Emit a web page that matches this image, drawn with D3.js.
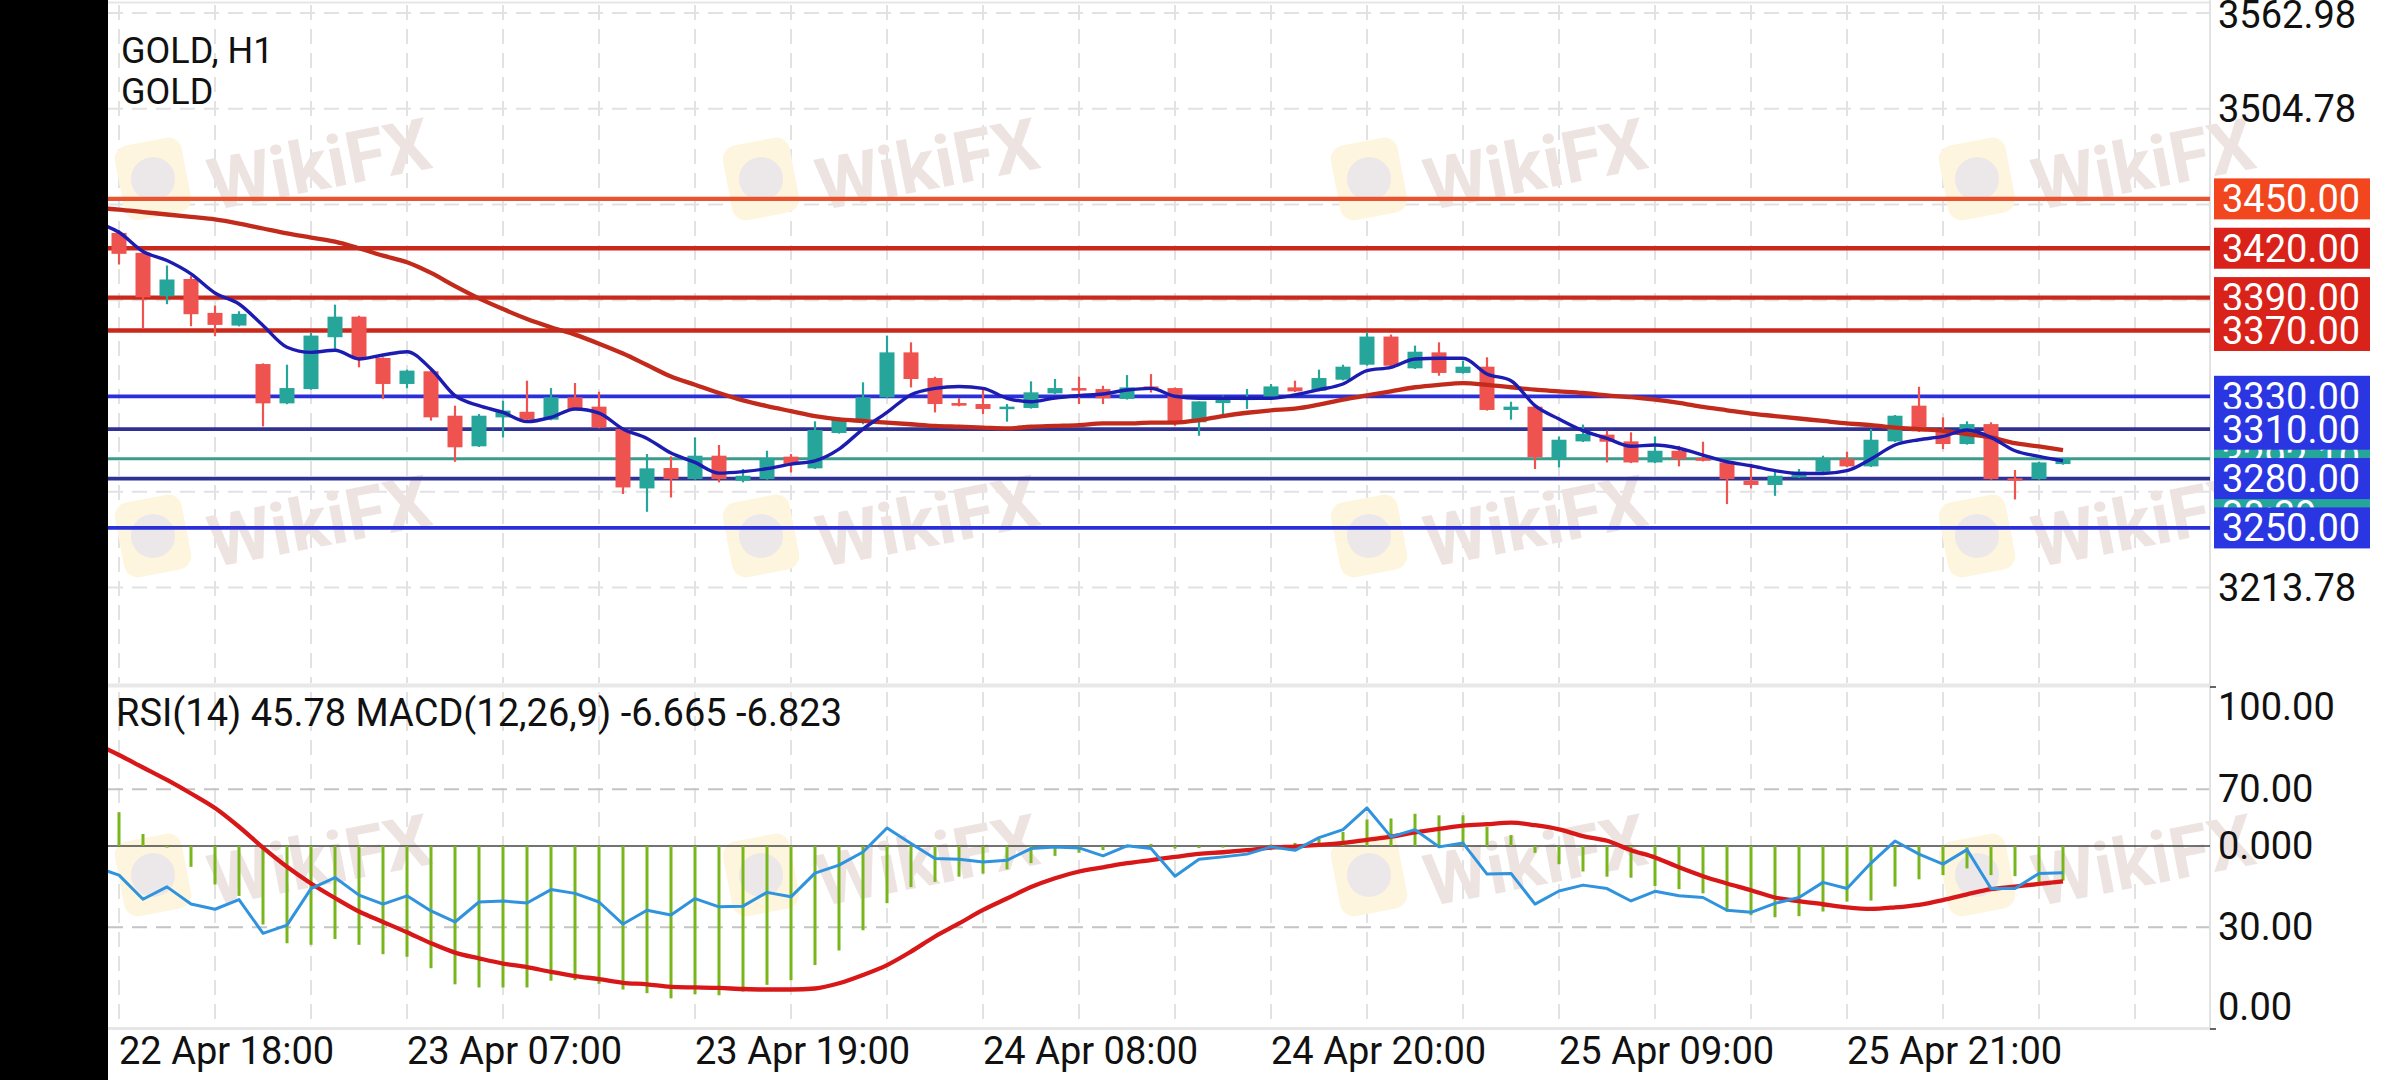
<!DOCTYPE html>
<html><head><meta charset="utf-8">
<script src="https://cdn.jsdelivr.net/npm/d3@7"></script>
<style>
html,body{margin:0;padding:0;background:#fff;overflow:hidden}
svg{display:block}
text{font-family:Roboto,"Noto Sans",sans-serif}
</style>
</head><body>
<svg id="c" width="2400" height="1080"></svg>
<script>
// ---------- DATA ----------
const symbol = "GOLD, H1";
const symbolName = "GOLD";
const indicatorText = "RSI(14) 45.78 MACD(12,26,9) -6.665 -6.823";
const timeLabels = ["22 Apr 18:00","23 Apr 07:00","23 Apr 19:00","24 Apr 08:00","24 Apr 20:00","25 Apr 09:00","25 Apr 21:00"];
const timeLabelBars = [0,12,24,36,48,60,72];
const priceTicks = [3562.98,3504.78,3446.58,3388.38,3330.18,3271.98,3213.78];
const rsiTicks = [100,70,30,0];
const rsiTickLabels = ["100.00","70.00","30.00","0.00"];
const macdZeroLabel = "0.000";

const opens  = [3429.3,3417.2,3390.8,3401.3,3380.7,3373,3349.6,3325.7,3334.4,3365.9,3378.4,3353.3,3337.5,3345.2,3318.2,3299.6,3317.2,3320.6,3315.8,3329.4,3323.7,3310.1,3274,3286.4,3279.7,3293.9,3278.7,3279.7,3293.3,3286.2,3307.7,3315.8,3329.4,3356.7,3341.1,3325.9,3325.3,3322.3,3322.9,3331.8,3335,3334.4,3328.4,3336,3335,3314.2,3325.9,3328.8,3329.4,3335.4,3333.4,3340.1,3349.2,3366.3,3347,3356.7,3344.2,3348,3321.7,3323.7,3292.3,3302.6,3306.7,3302.6,3289.8,3296.9,3292.5,3289.8,3278.7,3276.1,3280.7,3284.2,3291.9,3287.4,3302.6,3324.3,3308.7,3301,3313.1,3280.2,3279.7,3288.8];
const highs  = [3431,3418,3409.5,3403,3385.1,3381.7,3350,3349.2,3368.5,3385.7,3379,3353.7,3346.2,3346.6,3324.3,3319.2,3327.3,3339.5,3335,3338.1,3332.8,3310.5,3294.9,3293.5,3305,3300.4,3285.8,3296.9,3294.9,3314.8,3317.2,3338.5,3366.9,3362.8,3341.9,3328.8,3334.4,3325.3,3339.1,3340.5,3341.9,3336.4,3342.9,3343.5,3335.4,3326.9,3330.4,3334.4,3337.5,3339.5,3346.2,3349.2,3368.9,3367.5,3360.8,3362.8,3351.7,3353.7,3326.7,3324.1,3305.6,3312.8,3309.2,3308.1,3305.6,3299.9,3302.4,3290.2,3288.8,3284.8,3285.8,3293.9,3296.3,3310.1,3318.6,3335.8,3317.2,3314.8,3314.2,3285.2,3290.2,3292.3];
const lows   = [3410.1,3370.9,3386,3372.6,3366.5,3372.5,3311.7,3325.2,3334,3358.8,3347.6,3328.4,3334.8,3315.2,3290.2,3299.2,3305,3315.2,3315.4,3321.8,3310.5,3270.6,3259.8,3268.5,3279.3,3277.7,3277.7,3279.3,3283.7,3285.8,3307.3,3313,3329,3335.4,3320.2,3323.9,3319.2,3314.6,3322.5,3331.4,3325.3,3325.3,3328,3332.3,3312.1,3306,3319.2,3322.3,3329,3332.6,3333,3339.7,3348.6,3347.6,3346.6,3342.5,3343.8,3321.3,3315.8,3285.8,3286.8,3302.2,3289.8,3289.4,3289.4,3287.4,3290.4,3264.5,3274,3269.5,3280.3,3283.8,3287,3287,3302.2,3308.3,3297.9,3300.6,3279.3,3267.3,3279.3,3288.4];
const closes = [3416.6,3390.2,3401,3379.9,3373.4,3380.1,3325.7,3335,3366.9,3378.4,3353.3,3337.5,3345.6,3317.2,3299,3318.2,3321.3,3315.8,3329.4,3322.3,3311.1,3274.6,3286.2,3279.7,3293.9,3279.7,3281.7,3292.3,3288.8,3309.5,3315.8,3329.4,3356.7,3340.5,3325.3,3324.3,3322.3,3323.7,3332.4,3335,3333.8,3328.8,3335.4,3334.4,3314.2,3326.9,3329.4,3329.2,3336,3333,3341.1,3348,3366.3,3348.6,3357.1,3344.2,3348,3321.7,3323.7,3292.9,3303.6,3307.1,3302.4,3289.8,3296.9,3291.9,3290.8,3279.7,3276.1,3281.7,3284.2,3291.9,3287.4,3303.6,3318.2,3308.7,3301,3313.1,3279.7,3279.6,3289.8,3292.1];

// line series start one bar before the first visible candle (bar -1)
const lineStartBar = -1;
const maFast = [3436,3429.7,3418,3412.5,3404.4,3392.8,3386.1,3373,3359.8,3356.7,3358,3352.7,3355.1,3357.1,3346.6,3330.4,3324.3,3320.2,3314.6,3317.2,3322.3,3319.8,3310.1,3304.4,3295.5,3289.8,3283.3,3284.2,3286,3288.8,3290.8,3297.9,3310.1,3320.2,3331,3334.8,3336,3334.8,3328.8,3326.7,3329,3330.4,3331.4,3333.8,3334.8,3330,3328.8,3328.8,3328.8,3328.8,3330.8,3334,3337.5,3345.6,3347.6,3352.7,3353.1,3353.1,3343.6,3339.5,3324.3,3316.2,3309.1,3304.4,3299.6,3300.4,3298.4,3294.3,3290.2,3287.8,3284.8,3283.1,3283.1,3284.8,3291.9,3300.4,3303.6,3305.6,3309.5,3305,3296.9,3293.5,3290.8];
const maSlow = [3444.5,3443.5,3442,3440.5,3439,3437.5,3435,3432,3429,3426.5,3424,3420,3415.5,3411.5,3405,3397,3389.5,3383,3377,3372,3367.5,3362,3356,3349,3342,3337,3332,3327.5,3324,3321,3318,3316,3315,3314,3313,3312,3311.5,3311,3310.5,3311.5,3312,3312.5,3313.5,3313.5,3314,3314,3315.5,3318,3320,3321.5,3322.5,3325,3328,3330.5,3333,3335.5,3337,3338,3337,3335.5,3334,3333,3332,3330.5,3329.5,3328,3326,3323.5,3321.5,3319.5,3318,3316.5,3315,3313.5,3312.5,3311,3310,3309,3307,3305,3301.5,3299.5,3297.3];
const rsi = [47.5,45.1,38.1,41.7,36.7,35.2,38,28.2,30.6,41.2,44.4,39.3,36.7,39.1,34.7,31.5,37.3,37.6,37,40.9,39.8,37.3,30.9,34.9,33.5,38.3,35.9,36.1,40.1,38.8,45.7,48,51.8,58.8,54.3,49.9,49.7,48.9,49.4,52.8,53.3,53,50.7,53.6,52.8,44.8,49.7,50.4,51.2,53.3,52.3,56,58.3,64.6,56.2,58.3,53.3,54.4,45.4,45.6,36.7,40.5,42.2,41.2,37.6,40.4,39.1,38.6,34.9,34.3,36.9,38.6,43,41.2,48.6,55,51.2,48.3,52.5,41.2,41.2,45.6,45.78];
const macdSignal = [19.7,17.5,15.1,12.7,10.1,7.3,3.7,-0.3,-4,-7.2,-10,-12.6,-14.6,-16.6,-18.7,-20.5,-21.6,-22.6,-23.3,-24.2,-25,-25.6,-26.3,-26.6,-27.1,-27.2,-27.3,-27.5,-27.6,-27.6,-27.4,-26.4,-24.8,-22.9,-20.3,-17.4,-14.9,-12.3,-10.1,-7.9,-6.2,-4.9,-4.1,-3.3,-2.7,-2.1,-1.5,-1.2,-0.8,-0.3,-0.1,0.2,0.6,1.2,1.8,2.6,3.3,3.9,4.2,4.5,4,3.2,1.9,1,-0.8,-2.2,-4.1,-5.8,-7.2,-8.5,-9.9,-10.6,-11.2,-11.8,-12.1,-11.8,-11.3,-10.4,-9.3,-8.3,-7.8,-7.3,-6.823];
// histogram starts at bar 0
const macdMain = [6.5,2.3,-0.3,-4,-7.4,-9.6,-15.1,-18.7,-19,-17.9,-19,-20.8,-21.3,-23.5,-26.6,-27.2,-27.2,-27.2,-25.9,-25.8,-26.5,-27.6,-28.3,-29.3,-28.5,-28.7,-28,-26.7,-25.8,-22.9,-20.1,-16.2,-11,-7.9,-6.9,-5.9,-5.3,-4.5,-3.3,-1.9,-1.3,-0.8,-0.3,0.4,-0.5,-0.4,-0.3,0.1,0.3,0.6,1.4,2.7,5.1,5.3,6.2,5.9,5.9,3.7,2.1,-1.3,-3.5,-4.9,-5.9,-6.1,-7.7,-8.3,-9.1,-12.6,-13.3,-13.7,-13.5,-12.6,-10.7,-10.5,-7.8,-6.4,-5.6,-4.3,-5.6,-5.8,-6.9,-6.665];

const levels = [3450,3420,3390,3370,3330,3310,3280,3250];
const levelKinds = ["r1","r2","r2","r2","b1","b2","b2","b1"];
const timerText = "30:39";

// ---------- STYLES ----------
const C = {
  up:"#26a69a", down:"#ef5350",
  maFast:"#1c1cb0", maSlow:"#c22a1b",
  lineColor:{r1:"#e9532f", r2:"#c9291b", b1:"#2b2fd8", b2:"#2f3194"},
  boxColor:{r1:"#f2461f", r2:"#d9231a", b1:"#2b36e3", b2:"#2b36e3"},
  teal:"#3b9c8c", tealBox:"#26a69a",
  grid:"#e2e2e2", rsi:"#2f93dd", hist:"#79b51c", signal:"#d81818"
};

// ---------- SCALES ----------
const svg = d3.select("#c");
const L = 108, R = 2210;
const x = d3.scaleLinear().domain([0,81]).range([119,2063]);
const yP = d3.scaleLinear().domain([3213.78,3562.98]).range([587.5,13]);
const yR = d3.scaleLinear().domain([0,100]).range([1030.5,686]);
const yM = d3.scaleLinear().domain([-35.48,30.77]).range([1030.5,686]);

const defs = svg.append("defs");
defs.append("clipPath").attr("id","cpMain").append("rect").attr("x",L).attr("y",3).attr("width",R-L).attr("height",681);
defs.append("clipPath").attr("id","cpLow").append("rect").attr("x",L).attr("y",688).attr("width",R-L).attr("height",340);

svg.append("rect").attr("width",2400).attr("height",1080).attr("fill","#fff");

// ---------- GRID ----------
const g = svg.append("g");
const vBars = d3.range(0,85,4);
g.selectAll(".vg1").data(vBars).join("line")
  .attr("x1",d=>x(d)).attr("x2",d=>x(d)).attr("y1",5).attr("y2",683)
  .attr("stroke",C.grid).attr("stroke-width",2).attr("stroke-dasharray","15,9");
g.selectAll(".vg2").data(vBars).join("line")
  .attr("x1",d=>x(d)).attr("x2",d=>x(d)).attr("y1",692).attr("y2",1026)
  .attr("stroke",C.grid).attr("stroke-width",2).attr("stroke-dasharray","15,9");
g.selectAll(".hg").data(priceTicks).join("line")
  .attr("x1",L).attr("x2",R).attr("y1",d=>yP(d)).attr("y2",d=>yP(d))
  .attr("stroke",C.grid).attr("stroke-width",2).attr("stroke-dasharray","15,9");
g.selectAll(".rg").data([70,30]).join("line")
  .attr("x1",L).attr("x2",R).attr("y1",d=>yR(d)).attr("y2",d=>yR(d))
  .attr("stroke","#c4c4c4").attr("stroke-width",2).attr("stroke-dasharray","15,9");

// frame lines
svg.append("line").attr("x1",L).attr("x2",R).attr("y1",2.5).attr("y2",2.5).attr("stroke","#e6e6e6").attr("stroke-width",2);
svg.append("line").attr("x1",L).attr("x2",R).attr("y1",685.5).attr("y2",685.5).attr("stroke","#e8e8e8").attr("stroke-width",4);
svg.append("line").attr("x1",L).attr("x2",R).attr("y1",1028.5).attr("y2",1028.5).attr("stroke","#e6e6e6").attr("stroke-width",3);
svg.append("line").attr("x1",R).attr("x2",R).attr("y1",0).attr("y2",1030).attr("stroke","#e2e2e2").attr("stroke-width",2);
svg.append("line").attr("x1",R).attr("x2",R+6).attr("y1",687).attr("y2",687).attr("stroke","#333").attr("stroke-width",1.5);
svg.append("line").attr("x1",R).attr("x2",R+6).attr("y1",1029).attr("y2",1029).attr("stroke","#333").attr("stroke-width",1.5);

// ---------- WATERMARK ----------
const wmX = [153,761,1369,1977], wmY = [179,536,875];
const wm = svg.append("g");
wmY.forEach(wy=>wmX.forEach(wx=>{
  const t = wm.append("g").attr("transform",`translate(${wx},${wy}) rotate(-11)`);
  t.append("rect").attr("x",-34).attr("y",-38).attr("width",68).attr("height",76).attr("rx",14).attr("fill","#fdf5de");
  t.append("circle").attr("r",22).attr("fill","#ece8ea");
  t.append("text").attr("x",166).attr("y",18).attr("text-anchor","middle").attr("dominant-baseline","central")
    .attr("font-size",72).attr("font-weight",700).attr("fill","#ede3e1").text("WikiFX");
}));

// ---------- MAIN PANEL ----------
const mp = svg.append("g").attr("clip-path","url(#cpMain)");
mp.selectAll(".lvl").data(levels).join("line")
  .attr("x1",L).attr("x2",R).attr("y1",d=>yP(d)).attr("y2",d=>yP(d))
  .attr("stroke",(d,i)=>C.lineColor[levelKinds[i]]).attr("stroke-width",(d,i)=>levelKinds[i][0]==="r"?4.3:3.8);
const lastPrice = closes[closes.length-1];
mp.append("line").attr("x1",L).attr("x2",R).attr("y1",yP(lastPrice)).attr("y2",yP(lastPrice))
  .attr("stroke",C.teal).attr("stroke-width",3);

// candles
const idx = d3.range(opens.length);
const bw = 15;
const cg = mp.append("g");
cg.selectAll(".wick").data(idx).join("line")
  .attr("x1",i=>x(i)).attr("x2",i=>x(i)).attr("y1",i=>yP(highs[i])).attr("y2",i=>yP(lows[i]))
  .attr("stroke",i=>closes[i]>=opens[i]?C.up:C.down).attr("stroke-width",2.2);
cg.selectAll(".body").data(idx).join("rect")
  .attr("x",i=>x(i)-bw/2).attr("width",bw)
  .attr("y",i=>yP(Math.max(opens[i],closes[i])))
  .attr("height",i=>Math.max(2.5,Math.abs(yP(opens[i])-yP(closes[i]))))
  .attr("fill",i=>closes[i]>=opens[i]?C.up:C.down);

// moving averages
const lineX = i => x(i+lineStartBar);
mp.append("path").datum(maSlow).attr("fill","none").attr("stroke",C.maSlow).attr("stroke-width",4.3)
  .attr("stroke-linejoin","round").attr("d",d3.line().x((d,i)=>lineX(i)).y(d=>yP(d)).curve(d3.curveMonotoneX));
mp.append("path").datum(maFast).attr("fill","none").attr("stroke",C.maFast).attr("stroke-width",3.4)
  .attr("stroke-linejoin","round").attr("d",d3.line().x((d,i)=>lineX(i)).y(d=>yP(d)).curve(d3.curveMonotoneX));

// ---------- LOWER PANEL ----------
const lp = svg.append("g").attr("clip-path","url(#cpLow)");
lp.append("line").attr("x1",L).attr("x2",R).attr("y1",yM(0)).attr("y2",yM(0)).attr("stroke","#444").attr("stroke-width",1.5);
lp.selectAll(".hist").data(macdMain).join("line")
  .attr("x1",(d,i)=>x(i)).attr("x2",(d,i)=>x(i)).attr("y1",yM(0)).attr("y2",d=>yM(d))
  .attr("stroke",C.hist).attr("stroke-width",3);
lp.append("path").datum(macdSignal).attr("fill","none").attr("stroke",C.signal).attr("stroke-width",4.3)
  .attr("stroke-linejoin","round").attr("d",d3.line().x((d,i)=>lineX(i)).y(d=>yM(d)).curve(d3.curveMonotoneX));
lp.append("path").datum(rsi).attr("fill","none").attr("stroke",C.rsi).attr("stroke-width",3)
  .attr("stroke-linejoin","round").attr("d",d3.line().x((d,i)=>lineX(i)).y(d=>yR(d)));

// ---------- TEXT ----------
const FS = 38;
const bh = 41;
// price tick labels hidden behind level boxes are not drawn
const visiblePriceTicks = priceTicks.filter(p=>levels.every(v=>Math.abs(yP(v)-yP(p))>bh/2+6));
const ax = svg.append("g").attr("font-size",FS).attr("fill","#111");
ax.selectAll(".pt").data(visiblePriceTicks).join("text")
  .attr("x",2218).attr("y",d=>Math.max(yP(d),14)+13.5).text(d=>d.toFixed(2));
ax.selectAll(".rt").data(rsiTicks).join("text")
  .attr("x",2218).attr("y",d=>Math.min(Math.max(yR(d),707),1007)+13).text((d,i)=>rsiTickLabels[i]);
ax.append("text").attr("x",2218).attr("y",yM(0)+13).text(macdZeroLabel);
ax.selectAll(".tl").data(timeLabels).join("text")
  .attr("x",(d,i)=>x(timeLabelBars[i])).attr("y",1064).text(d=>d);

svg.append("text").attr("x",121).attr("y",63).attr("font-size",36).attr("fill","#111").text(symbol);
svg.append("text").attr("x",121).attr("y",104).attr("font-size",36).attr("fill","#111").text(symbolName);
svg.append("text").attr("x",116).attr("y",726).attr("font-size",FS).attr("fill","#111").text(indicatorText);

// price label boxes
const bx = 2214, bwid = 156;
const lb = svg.append("g").attr("font-size",FS);
function box(price, fill, label, cy){
  const yy = cy===undefined? yP(price): cy;
  lb.append("rect").attr("x",bx).attr("y",yy-bh/2).attr("width",bwid).attr("height",bh).attr("fill",fill);
  lb.append("text").attr("x",bx+8).attr("y",yy+13.5).attr("fill","#fff").text(label);
}
box(lastPrice, C.tealBox, lastPrice.toFixed(2));
box(null, C.tealBox, timerText, 514);
levels.forEach((v,i)=>box(v, C.boxColor[levelKinds[i]], v.toFixed(2)));

// left black band
svg.append("rect").attr("x",0).attr("y",0).attr("width",L).attr("height",1080).attr("fill","#000");
</script>
</body></html>
